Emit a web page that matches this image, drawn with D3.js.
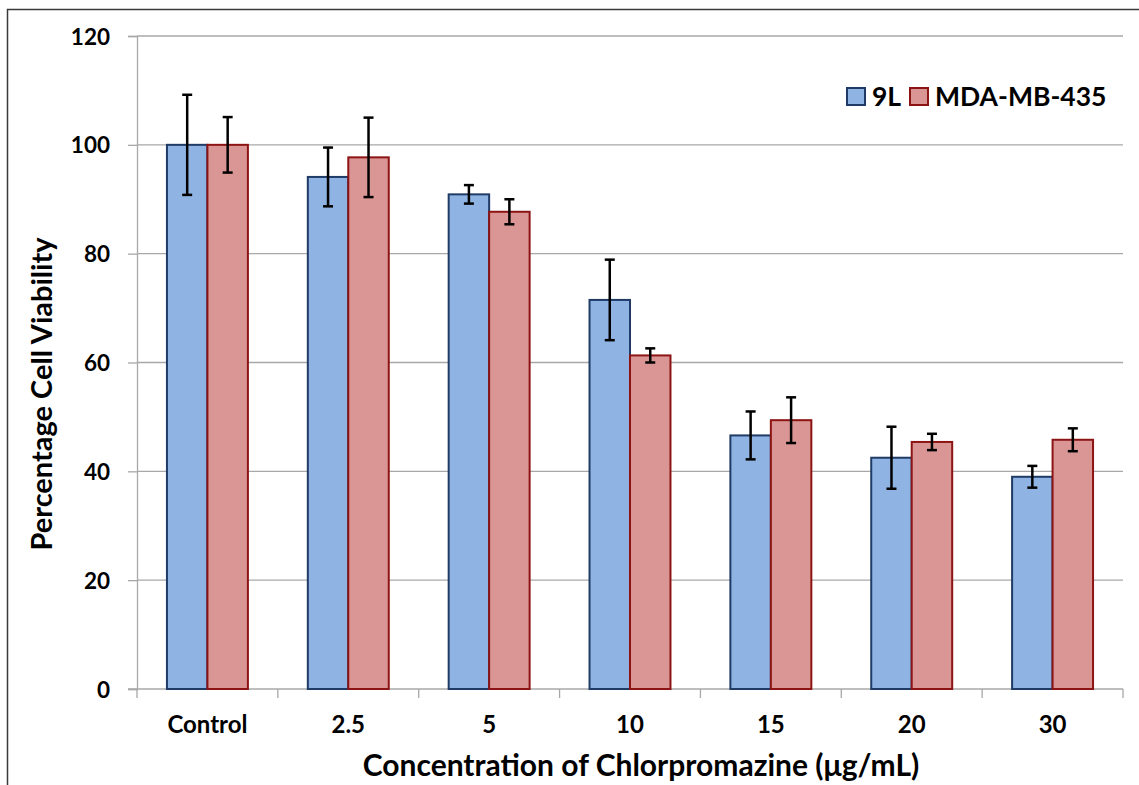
<!DOCTYPE html>
<html>
<head>
<meta charset="utf-8">
<script src="https://cdn.jsdelivr.net/npm/d3@7"></script>
<style>
  body { margin: 0; background: #fff; }
  svg text { font-family: "Lato", "Liberation Sans", sans-serif; font-weight: bold; fill: #000; }
</style>
</head>
<body>
<svg id="chart"></svg>
<script>
width = 1139;
height = 785;

// data
categories = ['Control', '2.5', '5', '10', '15', '20', '30'];
seriesNames = ['9L', 'MDA-MB-435'];
values9L = [100, 94.1, 90.9, 71.5, 46.6, 42.5, 39.0];
err9L = [9.2, 5.4, 1.7, 7.4, 4.4, 5.7, 2.0];
valuesMDA = [100, 97.7, 87.7, 61.3, 49.4, 45.4, 45.8];
errMDA = [5.1, 7.3, 2.3, 1.3, 4.2, 1.5, 2.1];
yTicks = [0, 20, 40, 60, 80, 100, 120];

fills = ['#8FB3E2', '#DA9694'];
strokes = ['#1F3B66', '#8C1414'];

plotLeft = 137;
plotRight = 1123;
plotTop = 36;
plotBottom = 689;

const svg = d3.select('#chart')
	.attr('width', width)
	.attr('height', height);

// outer frame
svg.append('rect')
	.attr('x', 7.5)
	.attr('y', 9.5)
	.attr('width', width + 20)
	.attr('height', height + 20)
	.attr('fill', 'none')
	.attr('stroke', '#3a3a3a')
	.attr('stroke-width', 1.5);

const x = d3.scaleBand()
	.domain(categories)
	.range([plotLeft, plotRight])
	.padding(0);

const xInner = d3.scaleBand()
	.domain(seriesNames)
	.range([0, x.bandwidth()])
	.paddingInner(0)
	.paddingOuter(0.74);

const y = d3.scaleLinear()
	.domain([0, 120])
	.range([plotBottom, plotTop]);

// gridlines
svg.append('g')
	.selectAll('line')
	.data(yTicks.filter(d => d > 0))
	.join('line')
		.attr('x1', plotLeft)
		.attr('x2', plotRight)
		.attr('y1', d => y(d))
		.attr('y2', d => y(d))
		.attr('stroke', '#A8A8A8')
		.attr('stroke-width', 1.3);

// y axis
const yAxis = svg.append('g')
	.attr('transform', `translate(${plotLeft},0)`)
	.call(d3.axisLeft(y).tickValues(yTicks).tickSize(9).tickPadding(18));
yAxis.select('.domain').attr('stroke', '#A8A8A8').attr('stroke-width', 1.3);
yAxis.selectAll('.tick line').attr('stroke', '#A8A8A8').attr('stroke-width', 1.3);
yAxis.selectAll('.tick text')
	.attr('font-size', 22.5)
	.attr('dy', '0.36em')
	.style('font-family', '"Lato", sans-serif')
	.style('font-weight', 'bold');

// x axis with ticks on category boundaries
const xAxis = svg.append('g')
	.attr('transform', `translate(0,${plotBottom})`);
xAxis.append('line')
	.attr('x1', plotLeft - 9)
	.attr('x2', plotRight)
	.attr('stroke', '#A8A8A8')
	.attr('stroke-width', 1.3);
const bounds = categories.map(c => x(c)).concat([plotRight]);
xAxis.selectAll('line.tk')
	.data(bounds)
	.join('line')
		.attr('class', 'tk')
		.attr('x1', d => d)
		.attr('x2', d => d)
		.attr('y1', 0)
		.attr('y2', 9)
		.attr('stroke', '#A8A8A8')
		.attr('stroke-width', 1.3);
xAxis.selectAll('text')
	.data(categories)
	.join('text')
		.attr('x', d => x(d) + x.bandwidth() / 2)
		.attr('y', 44)
		.attr('text-anchor', 'middle')
		.attr('font-size', 24)
		.text(d => d);

// bars
const rows = categories.map((c, i) => ({
	cat: c,
	vals: [
		{name: seriesNames[0], v: values9L[i], e: err9L[i], s: 0},
		{name: seriesNames[1], v: valuesMDA[i], e: errMDA[i], s: 1}
	]
}));

const groups = svg.append('g')
	.selectAll('g')
	.data(rows)
	.join('g')
		.attr('transform', d => `translate(${x(d.cat)},0)`);

groups.selectAll('rect')
	.data(d => d.vals)
	.join('rect')
		.attr('x', d => xInner(d.name))
		.attr('y', d => y(d.v))
		.attr('width', xInner.bandwidth())
		.attr('height', d => y(0) - y(d.v))
		.attr('fill', d => fills[d.s])
		.attr('stroke', d => strokes[d.s])
		.attr('stroke-width', 2);

// error bars
const errG = groups.selectAll('g.err')
	.data(d => d.vals)
	.join('g')
		.attr('class', 'err')
		.attr('transform', d => `translate(${xInner(d.name) + xInner.bandwidth() / 2},0)`);
errG.append('line')
	.attr('y1', d => y(d.v + d.e))
	.attr('y2', d => y(d.v - d.e))
	.attr('stroke', '#000')
	.attr('stroke-width', 2.5);
errG.append('line')
	.attr('x1', -5).attr('x2', 5)
	.attr('y1', d => y(d.v + d.e))
	.attr('y2', d => y(d.v + d.e))
	.attr('stroke', '#000')
	.attr('stroke-width', 2.5);
errG.append('line')
	.attr('x1', -5).attr('x2', 5)
	.attr('y1', d => y(d.v - d.e))
	.attr('y2', d => y(d.v - d.e))
	.attr('stroke', '#000')
	.attr('stroke-width', 2.5);

// legend
const legend = svg.append('g');
const legendX = [847, 910];
seriesNames.forEach((n, i) => {
	legend.append('rect')
		.attr('x', legendX[i])
		.attr('y', 88)
		.attr('width', 18)
		.attr('height', 17)
		.attr('fill', fills[i])
		.attr('stroke', strokes[i])
		.attr('stroke-width', 2);
	legend.append('text')
		.attr('x', legendX[i] + 25)
		.attr('y', 106)
		.attr('font-size', 26.5)
		.text(n);
});

// axis titles
svg.append('text')
	.attr('x', 641)
	.attr('y', 776)
	.attr('text-anchor', 'middle')
	.attr('font-size', 30)
	.text('Concentration of Chlorpromazine (\u03bcg/mL)');

svg.append('text')
	.attr('transform', 'translate(52,394) rotate(-90)')
	.attr('text-anchor', 'middle')
	.attr('font-size', 29)
	.text('Percentage Cell Viability');
</script>
</body>
</html>
